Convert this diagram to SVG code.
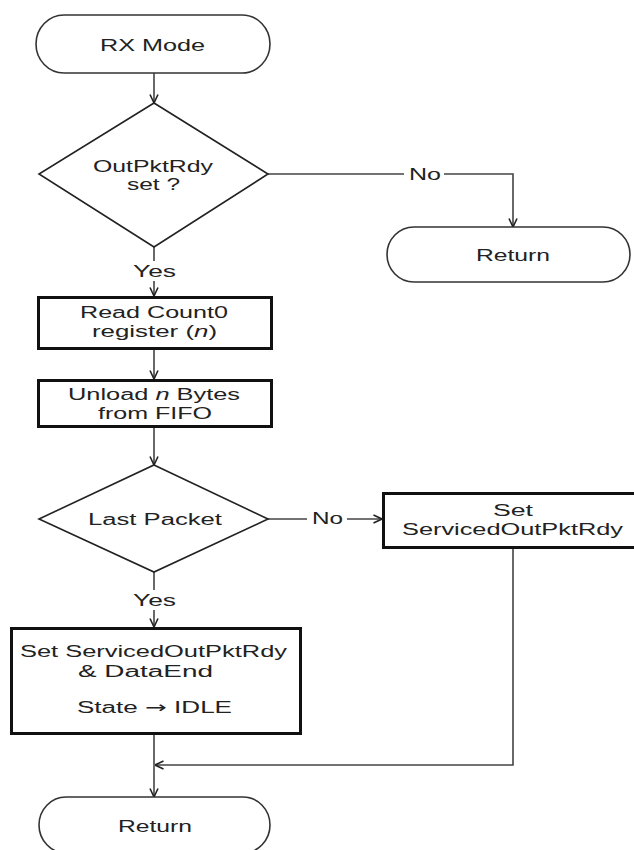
<svg xmlns="http://www.w3.org/2000/svg" width="634" height="850" viewBox="0 0 634 850">
  <style>
    .term { fill: #fff; stroke: #333; stroke-width: 1.6; }
    .dec { fill: #fff; stroke: #222; stroke-width: 1.6; }
    .proc { fill: #fff; stroke: #111; stroke-width: 3; }
    .conn { fill: none; stroke: #444; stroke-width: 1.6; }
    .lbl { font-family: "Liberation Sans", Arial, sans-serif; font-size: 16px; fill: #222; text-anchor: middle; }
    .bg { fill: #fff; stroke: none; }
  </style>
  <defs>
    <marker id="arr" viewBox="0 0 10 10" refX="9.5" refY="5" markerWidth="10" markerHeight="10" markerUnits="userSpaceOnUse" orient="auto">
      <path d="M1,1 L9.5,5 L1,9" fill="none" stroke="#222" stroke-width="1.6"/>
    </marker>
  </defs>

  <g id="connectors">
    <path class="conn" d="M154,73 V103" marker-end="url(#arr)"/>
    <path class="conn" d="M268,174 H513 V227" marker-end="url(#arr)"/>
    <rect class="bg" x="404" y="164" width="40" height="20"/>
    <text class="lbl" x="425" y="180" textLength="32" lengthAdjust="spacingAndGlyphs">No</text>
    <path class="conn" d="M154,247 V296" marker-end="url(#arr)"/>
    <rect class="bg" x="131" y="261" width="47" height="20"/>
    <text class="lbl" x="154.500" y="277" textLength="43" lengthAdjust="spacingAndGlyphs">Yes</text>
    <path class="conn" d="M154,350 V379" marker-end="url(#arr)"/>
    <path class="conn" d="M154,428 V465" marker-end="url(#arr)"/>
    <path class="conn" d="M268,519 H382" marker-end="url(#arr)"/>
    <rect class="bg" x="307" y="509" width="40" height="20"/>
    <text class="lbl" x="327.500" y="524" textLength="31" lengthAdjust="spacingAndGlyphs">No</text>
    <path class="conn" d="M154,572 V627" marker-end="url(#arr)"/>
    <rect class="bg" x="131" y="590" width="47" height="20"/>
    <text class="lbl" x="154.500" y="606" textLength="43" lengthAdjust="spacingAndGlyphs">Yes</text>
    <path class="conn" d="M154,735 V797" marker-end="url(#arr)"/>
    <path class="conn" d="M513,549 V765 H155" marker-end="url(#arr)"/>
  </g>

  <g id="rx-mode">
    <rect class="term" x="36" y="15" width="234" height="58" rx="28" ry="29"/>
    <text class="lbl" x="152.500" y="51" textLength="105" lengthAdjust="spacingAndGlyphs">RX Mode</text>
  </g>

  <g id="outpktrdy-set">
    <polygon class="dec" points="154,103 268,174 154,247 39,174"/>
    <text class="lbl" x="153" y="172" textLength="120" lengthAdjust="spacingAndGlyphs">OutPktRdy</text>
    <text class="lbl" x="153.500" y="190" textLength="53" lengthAdjust="spacingAndGlyphs">set ?</text>
  </g>

  <g id="return-1">
    <rect class="term" x="387" y="227" width="243" height="55" rx="27" ry="27.500"/>
    <text class="lbl" x="513" y="261" textLength="74" lengthAdjust="spacingAndGlyphs">Return</text>
  </g>

  <g id="read-count0">
    <rect class="proc" x="38.500" y="297.500" width="233" height="51"/>
    <text class="lbl" x="154" y="318" textLength="148" lengthAdjust="spacingAndGlyphs">Read Count0</text>
    <text class="lbl" x="154.500" y="337" textLength="125" lengthAdjust="spacingAndGlyphs">register (<tspan font-style="italic">n</tspan>)</text>
  </g>

  <g id="unload-bytes">
    <rect class="proc" x="38.500" y="380.500" width="233" height="46"/>
    <text class="lbl" x="154" y="400" textLength="172" lengthAdjust="spacingAndGlyphs">Unload <tspan font-style="italic">n</tspan> Bytes</text>
    <text class="lbl" x="155" y="419" textLength="114" lengthAdjust="spacingAndGlyphs">from FIFO</text>
  </g>

  <g id="last-packet">
    <polygon class="dec" points="154,465 268,519 154,572 39,519"/>
    <text class="lbl" x="155" y="525" textLength="134" lengthAdjust="spacingAndGlyphs">Last Packet</text>
  </g>

  <g id="set-serviced">
    <rect class="proc" x="383.500" y="493.500" width="260" height="54"/>
    <text class="lbl" x="513" y="516" textLength="40" lengthAdjust="spacingAndGlyphs">Set</text>
    <text class="lbl" x="512.500" y="535" textLength="221" lengthAdjust="spacingAndGlyphs">ServicedOutPktRdy</text>
  </g>

  <g id="set-serviced-dataend">
    <rect class="proc" x="11.500" y="628.500" width="289" height="105"/>
    <text class="lbl" x="153.500" y="657" textLength="267" lengthAdjust="spacingAndGlyphs">Set ServicedOutPktRdy</text>
    <text class="lbl" x="145.500" y="677" textLength="135" lengthAdjust="spacingAndGlyphs">&amp; DataEnd</text>
    <text class="lbl" x="154.500" y="713" textLength="155" lengthAdjust="spacingAndGlyphs">State <tspan font-family="'DejaVu Sans', sans-serif">→</tspan> IDLE</text>
  </g>

  <g id="return-2">
    <rect class="term" x="39" y="797" width="231" height="56" rx="27" ry="28"/>
    <text class="lbl" x="155" y="832" textLength="74" lengthAdjust="spacingAndGlyphs">Return</text>
  </g>
</svg>
